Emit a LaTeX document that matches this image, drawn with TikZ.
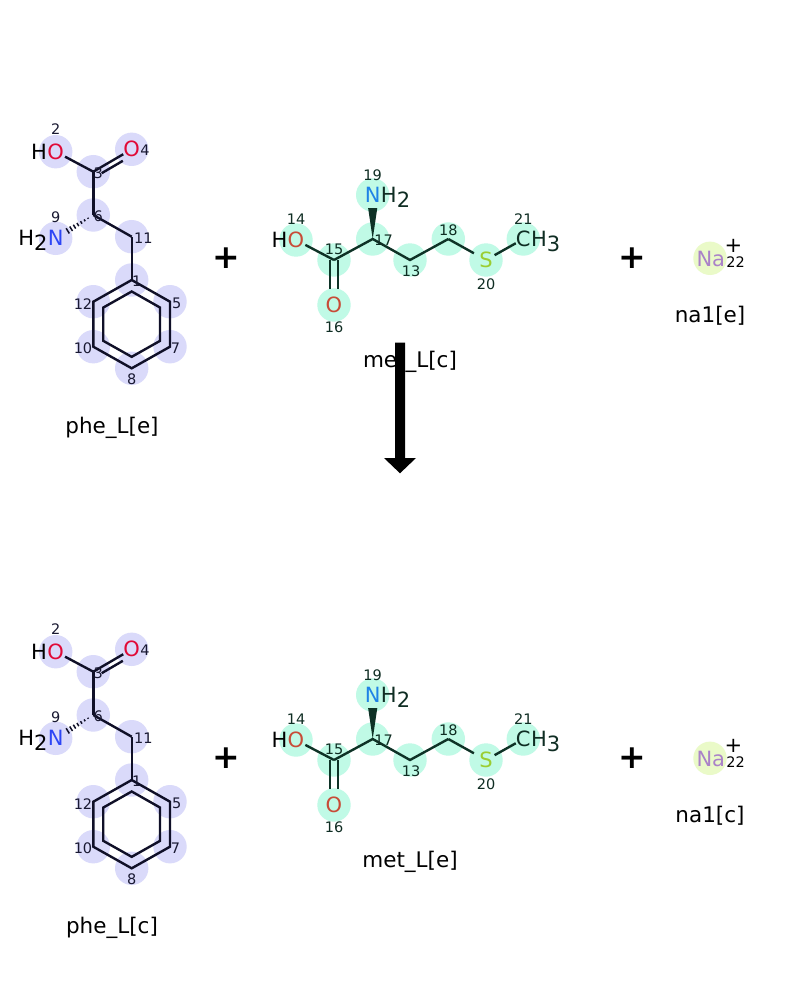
\documentclass[tikz,border=0pt]{standalone}
\usepackage{fontspec}
\setmainfont{DejaVu Sans}
\usetikzlibrary{calc}
\definecolor{phehl}{RGB}{218,218,250}
\definecolor{methl}{RGB}{192,250,230}
\definecolor{nahl}{RGB}{234,250,200}
\definecolor{pbondc}{RGB}{16,16,40}
\definecolor{mbondc}{RGB}{14,50,38}
\definecolor{pheo}{RGB}{225,10,55}
\definecolor{phen}{RGB}{45,70,245}
\definecolor{meto}{RGB}{200,75,55}
\definecolor{metn}{RGB}{30,130,230}
\definecolor{mets}{RGB}{155,205,50}
\definecolor{nacol}{RGB}{170,130,200}
\definecolor{phenum}{RGB}{25,25,50}
\definecolor{metnum}{RGB}{15,45,35}

\newcommand\PheMol[2]{%
\coordinate (#1c1) at (131.7,280);
\coordinate (#1c3) at (93.3,171.7);
\coordinate (#1c5) at (170,301.7);
\coordinate (#1c6) at (93.3,215);
\coordinate (#1c7) at (170,346.7);
\coordinate (#1c8) at (131.7,368.3);
\coordinate (#1c10) at (93.3,346.7);
\coordinate (#1c11) at (131.7,236.7);
\coordinate (#1c12) at (93.3,301.7);
\coordinate (#1o2) at (55.7,151.7);
\coordinate (#1o4) at (131.7,149.3);
\coordinate (#1n9) at (55.7,238.3);
\coordinate (#1ctr) at (131.7,324.2);
\foreach \a in {o2,o4,c3,c6,n9,c11,c1,c5,c7,c8,c10,c12}{\fill[phehl] (#1\a) circle (16.7);}
\draw[pbond] (#1c1) -- (#1c5) -- (#1c7) -- (#1c8) -- (#1c10) -- (#1c12) -- cycle;
\draw[pbond] ($(#1ctr)!0.74!(#1c1)$) -- ($(#1ctr)!0.74!(#1c5)$) -- ($(#1ctr)!0.74!(#1c7)$) -- ($(#1ctr)!0.74!(#1c8)$) -- ($(#1ctr)!0.74!(#1c10)$) -- ($(#1ctr)!0.74!(#1c12)$) -- cycle;
\draw[pbond] (#1c11) -- (#1c1);
\draw[pbond] (#1c6) -- (#1c11);
\draw[pbond] (#1c3) -- (#1c6);
\node[atom,text=phen] (#1N9) at (#1n9) {N};
\node[atom,anchor=base east] (#1H9) at (#1N9.base west) {H\raisebox{-5pt}{2}};
\node[atom,text=pheo] (#1O2) at (#1o2) {O};
\node[atom,anchor=base east] (#1H2) at (#1O2.base west) {H};
\node[atom,text=pheo] (#1O4) at (#1o4) {O};
\draw[pbond,shorten <=1pt] (#1O2) -- (#1c3);
\draw[pbond] (#1c3) -- (#1O4);
\draw[pbond] ($(#1c3)!6.5pt!(#1o4)!5.5pt!-90:(#1o4)$) -- ($(#1c3)!31pt!(#1o4)!5.5pt!90:(#1c3)$);
\coordinate (#1wl) at ($(#1n9)!4.5pt!90:(#1c6)$);
\coordinate (#1wr) at ($(#1n9)!4.5pt!-90:(#1c6)$);
\foreach \t in {0.14,0.23,...,0.72}{\draw[phash] ($(#1c6)!\t!(#1wl)$) -- ($(#1c6)!\t!(#1wr)$);}
\node[num,text=phenum] (#1l2) at (55.7,129.3) {2};
\node[num,text=phenum] (#1l4) at (145,150.7) {4};
\node[num,text=phenum] (#1l3) at (98.3,173.3) {3};
\node[num,text=phenum] (#1l6) at (98.3,216.7) {6};
\node[num,text=phenum] (#1l9) at (55.7,217.3) {9};
\node[num,text=phenum] (#1l11) at (143.3,238.3) {11};
\node[num,text=phenum] (#1l1) at (136.7,281.7) {1};
\node[num,text=phenum] (#1l12) at (83,304) {12};
\node[num,text=phenum] (#1l5) at (176.7,303.3) {5};
\node[num,text=phenum] (#1l10) at (83,348.3) {10};
\node[num,text=phenum] (#1l7) at (175.5,348.3) {7};
\node[num,text=phenum] (#1l8) at (131.7,379.3) {8};
\node[molname] (#1name) at (112,428) {#2};
}

\newcommand\MetMol[2]{%
\coordinate (#1o14) at (296,240);
\coordinate (#1c15) at (334,260);
\coordinate (#1o16) at (334,305);
\coordinate (#1c17) at (372.7,239);
\coordinate (#1n19) at (372.7,195);
\coordinate (#1c13) at (410,260);
\coordinate (#1c18) at (448.3,239);
\coordinate (#1s20) at (486,260);
\coordinate (#1c21) at (523.3,239);
\foreach \a in {o14,c15,o16,c17,n19,c13,c18,s20,c21}{\fill[methl] (#1\a) circle (16.7);}
\draw[mbond] (#1c15) -- (#1c17) -- (#1c13) -- (#1c18);
\node[atom,text=meto] (#1O14) at (#1o14) {O};
\node[atom,anchor=base east] (#1H14) at (#1O14.base west) {H};
\node[atom,text=meto] (#1O16) at (#1o16) {O};
\node[atom,text=metn] (#1N19) at (#1n19) {N};
\node[atom,text=metnum,anchor=base west] (#1H19) at (#1N19.base east) {H\raisebox{-5pt}{2}};
\node[atom,text=mets] (#1S20) at (#1s20) {S};
\node[atom,text=metnum] (#1C21) at (#1c21) {C};
\node[atom,text=metnum,anchor=base west] (#1H21) at (#1C21.base east) {H\raisebox{-5pt}{3}};
\draw[mbond,shorten <=1pt] (#1O14) -- (#1c15);
\draw[mbond] ($(#1c15)+(-4,0)$) -- ($(#1O16.north)+(-4,-8)$);
\draw[mbond] ($(#1c15)+(4,0)$) -- ($(#1O16.north)+(4,-8)$);
\draw[mbond,shorten >=6pt] (#1c18) -- (#1S20);
\draw[mbond,shorten <=2pt] (#1S20) -- (#1C21);
\coordinate (#1wl) at ($(#1n19)!6.5pt!90:(#1c17)$);
\coordinate (#1wr) at ($(#1n19)!6.5pt!-90:(#1c17)$);
\fill[mbondc] (#1c17) -- ($(#1c17)!0.7!(#1wl)$) -- ($(#1c17)!0.7!(#1wr)$) -- cycle;
\node[num,text=metnum] (#1l14) at (296,219.3) {14};
\node[num,text=metnum] (#1l15) at (334,249.3) {15};
\node[num,text=metnum] (#1l16) at (334,327.7) {16};
\node[num,text=metnum] (#1l17) at (383.5,240) {17};
\node[num,text=metnum] (#1l19) at (372.7,175) {19};
\node[num,text=metnum] (#1l13) at (411,271.7) {13};
\node[num,text=metnum] (#1l18) at (448.3,230) {18};
\node[num,text=metnum] (#1l20) at (486,284) {20};
\node[num,text=metnum] (#1l21) at (523.3,219.3) {21};
\node[molname] (#1name) at (410,362) {#2};
}

\newcommand\NaIon[2]{%
\coordinate (#1na) at (710,258.3);
\fill[nahl] (#1na) circle (16.7);
\node[atom,text=nacol] (#1Na) at (710.8,259) {Na};
\node[atom] (#1chg) at (733.5,245.5) {+};
\node[num] (#1l22) at (735.5,262.5) {22};
\node[molname] (#1name) at (710,315.8) {#2};
}

\begin{document}
\begin{tikzpicture}[x=1pt,y=-1pt,
  atom/.style={font=\fontsize{21}{24}\selectfont,inner sep=0pt},
  num/.style={font=\fontsize{14.5}{16}\selectfont,inner sep=0pt},
  molname/.style={font=\fontsize{21.5}{24}\selectfont,inner sep=0pt},
  plus/.style={font=\fontsize{33}{36}\selectfont\bfseries,inner sep=0pt},
  pbond/.style={draw=pbondc,line width=2.4pt},
  mbond/.style={draw=mbondc,line width=2.4pt},
  phash/.style={draw=pbondc,line width=1.5pt}]
\fill[white] (0,0) rectangle (800,1000);
\useasboundingbox (0,0) rectangle (800,1000);
\PheMol{tp}{phe\_L[e]}
\MetMol{tm}{met\_L[c]}
\NaIon{tn}{na1[e]}
\node[plus] (tplus1) at (226,258) {+};
\node[plus] (tplus2) at (632,258) {+};
\coordinate (arrtop) at (400,342.7);
\coordinate (arrtip) at (400,473.3);
\fill[black] ($(arrtop)+(-5,0)$) -- ($(arrtop)+(5,0)$) -- ($(arrtip)+(5,-15.3)$) -- ($(arrtip)+(16,-15.3)$) -- (arrtip) -- ($(arrtip)+(-16,-15.3)$) -- ($(arrtip)+(-5,-15.3)$) -- cycle;
\begin{scope}[shift={(0,500)}]
\PheMol{bp}{phe\_L[c]}
\MetMol{bm}{met\_L[e]}
\NaIon{bn}{na1[c]}
\node[plus] (bplus1) at (226,258) {+};
\node[plus] (bplus2) at (632,258) {+};
\end{scope}
\end{tikzpicture}
\end{document}
